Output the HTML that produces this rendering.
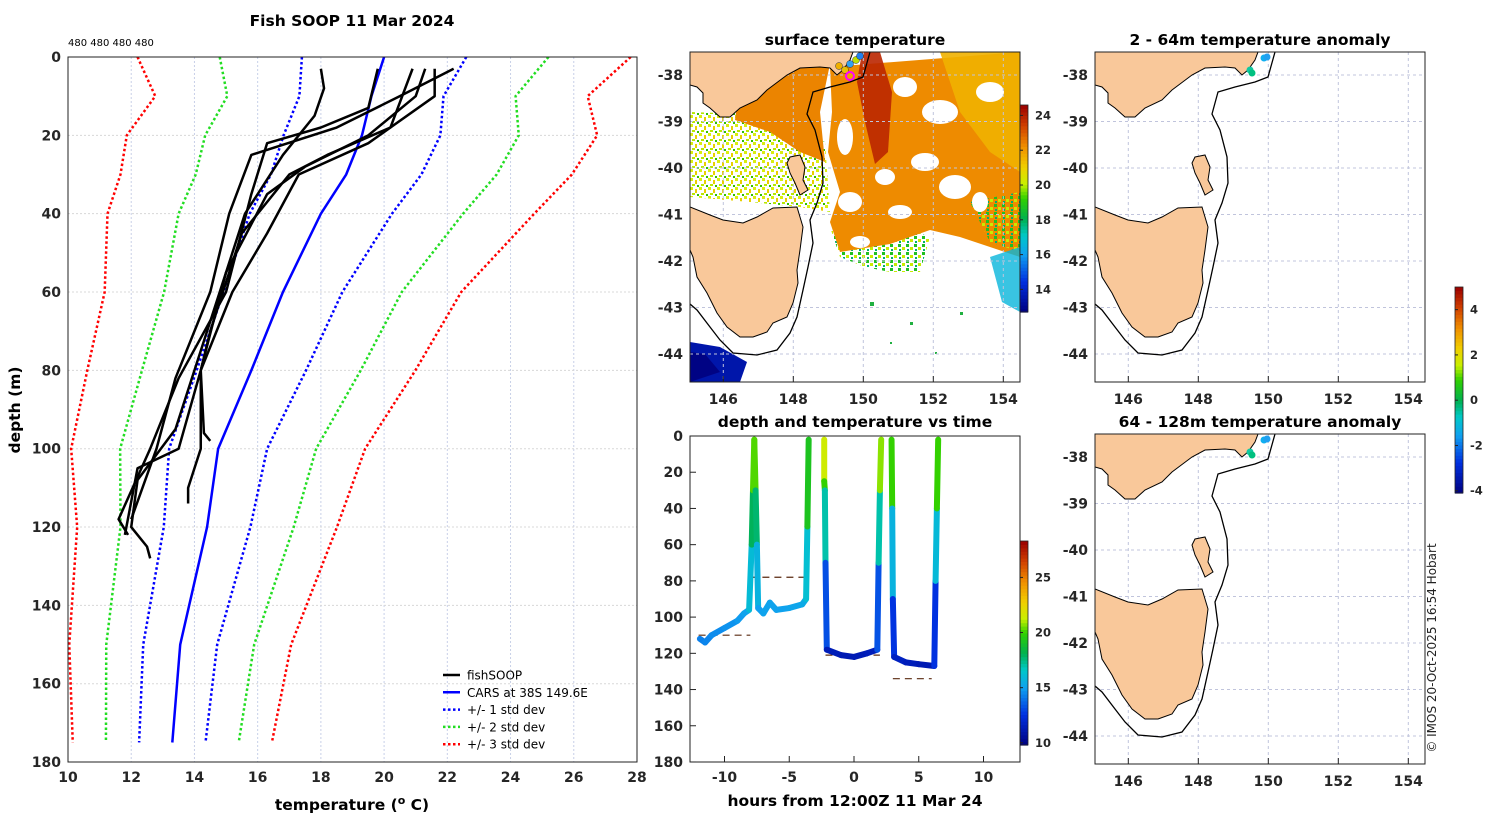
<!DOCTYPE html>
<html><head><meta charset="utf-8"><style>
body{margin:0;background:#fff;}
svg text{font-family:"DejaVu Sans","Liberation Sans",sans-serif;}
.tk{font-size:14px;font-weight:bold;fill:#262626;}
.ttl{font-size:15.5px;font-weight:bold;fill:#000;}
</style></head><body>
<svg id="fig" width="1500" height="820" viewBox="0 0 1500 820" xmlns="http://www.w3.org/2000/svg">
<defs>
<clipPath id="mapclip"><rect x="0" y="0" width="330" height="330"/></clipPath>
<clipPath id="mainclip"><rect x="68" y="57" width="569" height="705"/></clipPath>
<clipPath id="dtclip"><rect x="690" y="436" width="330" height="326"/></clipPath>
<pattern id="speckY" width="9" height="9" patternUnits="userSpaceOnUse">
<rect x="0" y="0" width="3" height="3" fill="#d8ee10"/><rect x="5" y="2" width="2" height="4" fill="#e8d000"/><rect x="2" y="6" width="3" height="2" fill="#b8e800"/><rect x="7" y="7" width="2" height="2" fill="#30c000"/>
</pattern>
<pattern id="speckG" width="8" height="8" patternUnits="userSpaceOnUse">
<rect x="0" y="0" width="3" height="3" fill="#20c020"/><rect x="4" y="3" width="3" height="3" fill="#c8ec00"/><rect x="1" y="5" width="2" height="2" fill="#00b070"/>
</pattern>
</defs>
<g id="main"></g>
<g id="maps"></g>
<g id="dt"></g>
<text x="1436" y="648" transform="rotate(-90 1436 648)" text-anchor="middle" font-size="12" fill="#222">© IMOS 20-Oct-2025 16:54 Hobart</text>
</svg>
<script>
// ---- profile chart data ----
const carsDepths=[0,10,20,30,40,60,80,100,120,150,175];
const carsMean=[20.0,19.6,19.3,18.8,18.0,16.8,15.8,14.75,14.4,13.55,13.3];
const carsSd=[2.6,2.28,2.48,2.38,2.25,1.88,1.73,1.55,1.37,1.17,1.05];
const profDepths=[
 [3,8,15,25,40,60,80,95,108,120,125,128],
 [3,10,22,30,45,60,80,100,110,114],
 [3,10,20,28,35,55,80,100,105,122],
 [3,18,25,30,45,70,80,96,98],
 [3,13,18,22,35,60,82,100,118,122],
 [3,10,18,25,40,60,82,100,118]];
const profTemps=[
 [18.0,18.1,17.8,16.8,15.6,14.8,14.0,13.4,12.2,12.0,12.5,12.6],
 [21.6,21.6,19.5,17.3,16.3,15.2,14.2,14.2,13.8,13.8],
 [21.3,21.0,19.5,17.5,16.3,15.0,14.2,13.5,12.2,11.8],
 [20.9,20.2,18.2,17.0,15.5,14.5,14.2,14.3,14.5],
 [19.8,19.5,18.0,16.3,15.8,15.0,13.5,12.6,11.6,11.9],
 [22.2,20.5,18.5,15.8,15.1,14.5,13.4,12.8,12.0]];
const xTicks=[10,12,14,16,18,20,22,24,26,28];
const yTicks=[0,20,40,60,80,100,120,140,160,180];
// ---- depth-time data ----
const trackHours=[[-11.9,-11.5,-11,-10,-9,-8.5,-8.1,-7.9,-7.8,-7.7,-7.6,-7.5,-7.4,-7,-6.5,-6,-5,-4,-3.7,-3.6,-3.5],
 [-2.3,-2.3,-2.25,-2.2,-2.1,-1,0,1,1.8,1.9,2.0,2.1],
 [2.9,2.95,3.0,3.1,4,5,6.2,6.3,6.4,6.5]];
const trackDepths=[[112,114,110,106,102,98,96,60,30,2,30,60,95,98,92,96,95,93,90,50,2],
 [2,25,30,70,118,121,122,120,118,70,30,2],
 [2,40,90,122,125,126,127,80,40,2]];
const trackTemps=[[14.3,14.3,14.5,14.6,14.8,15,15.2,17,19,21.5,19,16.5,15,15,15.2,15,15.1,15.3,15.5,17,21.5],
 [22,21,19,15,11.5,11.3,11.3,11.4,11.6,15,19,22.5],
 [22,18,13.5,11.8,11.6,11.4,11.2,14,18,22]];
const dashStart=[-12,-8,-2.2,3];
const dashEnd=[-8,-3.8,2,6];
const dashDepth=[110,78,121,134];
const dtXTicks=[-10,-5,0,5,10];
// ---- colorbars ----
const sstTicks=[14,16,18,20,22,24];
const dtCbTicks=[10,15,20,25];
const anomTicks=[-4,-2,0,2,4];

const NS='http://www.w3.org/2000/svg';
function mk(tag,attrs,parent){const e=document.createElementNS(NS,tag);for(const k in attrs)e.setAttribute(k,attrs[k]);parent.appendChild(e);return e;}
const stops=[[0,[0,0,127]],[.15,[0,48,224]],[.28,[16,160,240]],[.37,[0,200,200]],[.45,[0,176,80]],[.55,[48,208,0]],[.62,[200,240,0]],[.7,[240,208,0]],[.8,[240,144,0]],[.9,[208,64,0]],[1,[154,0,0]]];
function jet(t){t=Math.max(0,Math.min(1,t));for(let i=1;i<stops.length;i++){if(t<=stops[i][0]){const a=stops[i-1],b=stops[i],f=(t-a[0])/(b[0]-a[0]);const c=a[1].map((v,j)=>Math.round(v+(b[1][j]-v)*f));return `rgb(${c})`;}}return 'rgb(154,0,0)';}

// ===== main profile chart =====
const M=document.getElementById('main');
const X=t=>68+(t-10)*31.61, Y=d=>57+d*3.917;
xTicks.forEach(t=>{const l=mk('line',{x1:X(t),x2:X(t),y1:57,y2:762,stroke:'#c8d0e8','stroke-dasharray':'2,2'},M);

const tx=mk('text',{x:X(t),y:782,class:'tk','text-anchor':'middle'},M);tx.textContent=t;
});
yTicks.forEach(d=>{const l=mk('line',{x1:68,x2:637,y1:Y(d),y2:Y(d),stroke:'#d8d8d8','stroke-dasharray':'2,2'},M);

const tx=mk('text',{x:61,y:Y(d)+5,class:'tk','text-anchor':'end'},M);tx.textContent=d;
});
const gc=mk('g',{'clip-path':'url(#mainclip)'},M);
const sdCols={3:'#ff0000',2:'#22dd22',1:'#0000ff'};
[3,2,1].forEach(k=>[1,-1].forEach(s=>{const p=carsDepths.map((d,i)=>X(carsMean[i]+s*k*carsSd[i])+','+Y(d)).join(' ');
const pl=mk('polyline',{points:p,fill:'none',stroke:sdCols[k],'stroke-width':2.5,'stroke-dasharray':'2.5,2.5'},gc);
}));
const cm=mk('polyline',{points:carsDepths.map((d,i)=>X(carsMean[i])+','+Y(d)).join(' '),fill:'none',stroke:'#0000ff','stroke-width':2.5},gc);

profDepths.forEach((ds,j)=>{const pl=mk('polyline',{points:ds.map((d,i)=>X(profTemps[j][i])+','+Y(d)).join(' '),fill:'none',stroke:'#000','stroke-width':2.5,'stroke-linejoin':'round'},gc);
});
const fr=mk('rect',{x:68,y:57,width:569,height:705,fill:'none',stroke:'#222','stroke-width':1},M);

let t1=mk('text',{x:352,y:26,class:'ttl','text-anchor':'middle'},M);t1.textContent='Fish SOOP 11 Mar 2024';

let t2=mk('text',{x:68,y:46,'font-size':10,fill:'#000'},M);t2.textContent='480 480 480 480';

let t3=mk('text',{x:352,y:810,class:'ttl','text-anchor':'middle',fill:'#262626'},M);t3.innerHTML='temperature (<tspan font-size="11" dy="-6">o</tspan><tspan dy="6"> C)</tspan>';

let t4=mk('text',{x:20,y:410,class:'ttl','text-anchor':'middle',transform:'rotate(-90 20 410)',fill:'#262626'},M);t4.textContent='depth (m)';

const legItems=[['fishSOOP','#000',''],['CARS at 38S 149.6E','#0000ff',''],['+/- 1 std dev','#0000ff','2.5,2.5'],['+/- 2 std dev','#22dd22','2.5,2.5'],['+/- 3 std dev','#ff0000','2.5,2.5']];
legItems.forEach((it,i)=>{const y=675+i*17.3;const g=mk('g',{},M);

mk('line',{x1:443,x2:460,y1:y,y2:y,stroke:it[1],'stroke-width':2.5,'stroke-dasharray':it[2]||'none'},g);
const tx=mk('text',{x:467,y:y+4.5,'font-size':12,fill:'#000'},g);tx.textContent=it[0];});

// ===== maps =====
const MP=document.getElementById('maps');
const mainland='0,0 163,0 160,8 153,18 147,23 140,16 130,15 110,16 97,23 77,38 67,48 50,56 40,65 30,65 20,56 13,51 13,41 7,35 0,33';
const flinders='100,105 110,103 115,115 113,128 118,138 110,143 105,131 100,121 97,111';
const tas='0,155 20,163 33,168 53,171 67,165 83,156 107,155 113,175 110,198 107,218 108,231 103,251 97,265 83,271 77,280 63,285 50,285 37,275 27,261 17,241 7,225 3,205 0,198';
const shelf='180,0 173,25 160,30 140,35 123,40 117,62 125,78 132,105 133,131 127,151 120,168 123,191 118,215 113,238 107,265 100,281 87,298 67,303 43,301 30,288 20,275 7,258 0,252';
const lonTicks=[146,148,150,152,154], latTicks=[-38,-39,-40,-41,-42,-43,-44];
const LX=l=>33.3+(l-146)*35, LY=l=>23+(-38-l)*46.5;
function sstBlobs(g){
 const c=v=>jet((v-12.7)/11.9);
 [['0,60 60,62 100,80 135,90 140,160 110,155 60,150 0,145','url(#speckY)',1],
  ['140,175 200,170 240,185 230,220 200,220 175,215 150,205','url(#speckG)',1],
  ['50,30 100,15 140,12 130,60 135,110 110,100 80,80 45,68',c(22.4),1],
  ['140,15 330,0 330,205 300,195 270,185 240,178 200,192 150,200 140,170 150,140 138,100 142,60',c(22.3),1],
  ['172,0 190,0 202,40 198,100 185,112 175,70 167,30',c(23.9),0.9],
  ['250,0 330,0 330,120 300,100 270,60',c(21.6),0.9],
  ['280,150 330,140 330,200 300,190','url(#speckG)',1],
  ['300,205 330,195 330,260 312,250',c(16.6),0.8],
  ['0,290 30,295 57,310 50,330 0,330',c(13.5),1],
  ['0,300 15,302 30,320 0,330',c(12.8),1]].forEach(b=>{const p=mk('polygon',{points:b[0],fill:b[1],opacity:b[2]},g);
  });
 [[215,35,12,10],[250,60,18,12],[300,40,14,10],[235,110,14,9],[265,135,16,12],[195,125,10,8],[160,150,12,10],[290,150,8,10],[155,85,8,18],[210,160,12,7],[170,190,10,6]].forEach(e=>{
  const el=mk('ellipse',{cx:e[0],cy:e[1],rx:e[2],ry:e[3],fill:'#fff'},g);});
 [[180,250,4],[220,270,3],[270,260,3],[200,290,2],[245,300,2]].forEach(e=>{
  const el=mk('rect',{x:e[0],y:e[1],width:e[2],height:e[2],fill:'#20b040'},g);});
}
function drawMap(ox,oy,title,kind){
 const g=mk('g',{transform:`translate(${ox},${oy})`},MP);
 
 const inner=mk('g',{'clip-path':'url(#mapclip)'},g);
 mk('rect',{x:0,y:0,width:330,height:330,fill:'#fff'},inner);
 if(kind==='sst')sstBlobs(inner);
 lonTicks.forEach(l=>mk('line',{x1:LX(l),x2:LX(l),y1:0,y2:330,stroke:'#c0c4dc','stroke-dasharray':'3,3'},inner));
 latTicks.forEach(l=>mk('line',{x1:0,x2:330,y1:LY(l),y2:LY(l),stroke:'#c0c4dc','stroke-dasharray':'3,3'},inner));
 [mainland,flinders,tas].forEach(p=>{const e=mk('polygon',{points:p,fill:'#f9c89a',stroke:'#000','stroke-width':1},inner);
  });
 const sh=mk('polyline',{points:shelf,fill:'none',stroke:'#000','stroke-width':1.3},inner);
 
 if(kind==='sst'){[[155,18,'#e8c000'],[160,12,'#30a0f0'],[166,8,'#c0e000'],[170,4,'#2080f0'],[149,14,'#f0b000']].forEach(d=>{
   const cc=mk('circle',{cx:d[0],cy:d[1],r:3.5,fill:d[2],stroke:'#333','stroke-width':0.5},inner);});
  const cc=mk('circle',{cx:160,cy:24,r:4,fill:'#f0a000',stroke:'#ff00ff','stroke-width':2},inner);}
 else{[[155,18,'#10c8a0'],[157,21,'#00c080'],[169,6,'#10b0f0'],[172,5,'#20a0f0']].forEach(d=>{
   const cc=mk('circle',{cx:d[0],cy:d[1],r:3.5,fill:d[2]},inner);});}
 mk('rect',{x:0,y:0,width:330,height:330,fill:'none',stroke:'#222'},g);
 lonTicks.forEach(l=>{const t=mk('text',{x:LX(l),y:352,class:'tk','text-anchor':'middle'},g);t.textContent=l;
  
  mk('line',{x1:LX(l),x2:LX(l),y1:330,y2:324,stroke:'#222'},g);});
 latTicks.forEach(l=>{const t=mk('text',{x:-7,y:LY(l)+5,class:'tk','text-anchor':'end'},g);t.textContent=l;
  });
 const tt=mk('text',{x:165,y:-7,class:'ttl','text-anchor':'middle'},g);tt.textContent=title;
 
}
drawMap(690,52,'surface temperature','sst');
drawMap(1095,52,'2 - 64m temperature anomaly','anomaly-shallow');
drawMap(1095,434,'64 - 128m temperature anomaly','anomaly-deep');

function colorbar(x,y0,y1,vmin,vmax,ticks,name){
 const g=mk('g',{},MP);
 const n=60,h=(y1-y0)/n;
 for(let i=0;i<n;i++)mk('rect',{x:x,y:y1-(i+1)*h,width:8,height:h+0.6,fill:jet((i+0.5)/n)},g);
 mk('rect',{x:x,y:y0,width:8,height:y1-y0,fill:'none',stroke:'#222','stroke-width':0.8},g);
 ticks.forEach(t=>{const yy=y1-(t-vmin)/(vmax-vmin)*(y1-y0);
  mk('line',{x1:x,x2:x+3,y1:yy,y2:yy,stroke:'#222'},g);
  const tx=mk('text',{x:x+15,y:yy+4,'font-size':11.5,'font-weight':'bold',fill:'#262626'},g);tx.textContent=t;});
}
colorbar(1020,105,312,12.7,24.6,sstTicks,'sst-colorbar');
colorbar(1020,541,745,9.8,28.3,dtCbTicks,'depth-time-colorbar');
colorbar(1455,287,493,-4.1,5.0,anomTicks,'anomaly-colorbar');

// ===== depth vs time =====
const D=document.getElementById('dt');
const HX=h=>854+h*12.95, DY=d=>436+d*1.811;
dtXTicks.forEach(h=>{const t=mk('text',{x:HX(h),y:782,class:'tk','text-anchor':'middle'},D);t.textContent=h;
 
 mk('line',{x1:HX(h),x2:HX(h),y1:762,y2:756,stroke:'#222'},D);});
yTicks.forEach(d=>{const t=mk('text',{x:683,y:DY(d)+5,class:'tk','text-anchor':'end'},D);t.textContent=d;
 
 mk('line',{x1:690,x2:696,y1:DY(d),y2:DY(d),stroke:'#222'},D);});
const dg=mk('g',{'clip-path':'url(#dtclip)'},D);
dashStart.forEach((s,i)=>{const l=mk('line',{x1:HX(s),x2:HX(dashEnd[i]),y1:DY(dashDepth[i]),y2:DY(dashDepth[i]),stroke:'#5a2a10','stroke-width':1.2,'stroke-dasharray':'7,5'},dg);
 });
trackHours.forEach((hs,j)=>{for(let i=1;i<hs.length;i++){const tv=(trackTemps[j][i]+trackTemps[j][i-1])/2;
 const l=mk('line',{x1:HX(hs[i-1]),x2:HX(hs[i]),y1:DY(trackDepths[j][i-1]),y2:DY(trackDepths[j][i]),stroke:jet((tv-9.8)/18.5),'stroke-width':6,'stroke-linecap':'round'},dg);
 }});
mk('rect',{x:690,y:436,width:330,height:326,fill:'none',stroke:'#222'},D);
let t5=mk('text',{x:855,y:427,class:'ttl','text-anchor':'middle'},D);t5.textContent='depth and temperature vs time';

let t6=mk('text',{x:855,y:806,class:'ttl','text-anchor':'middle',fill:'#262626'},D);t6.textContent='hours from 12:00Z 11 Mar 24';

</script>
</body></html>
